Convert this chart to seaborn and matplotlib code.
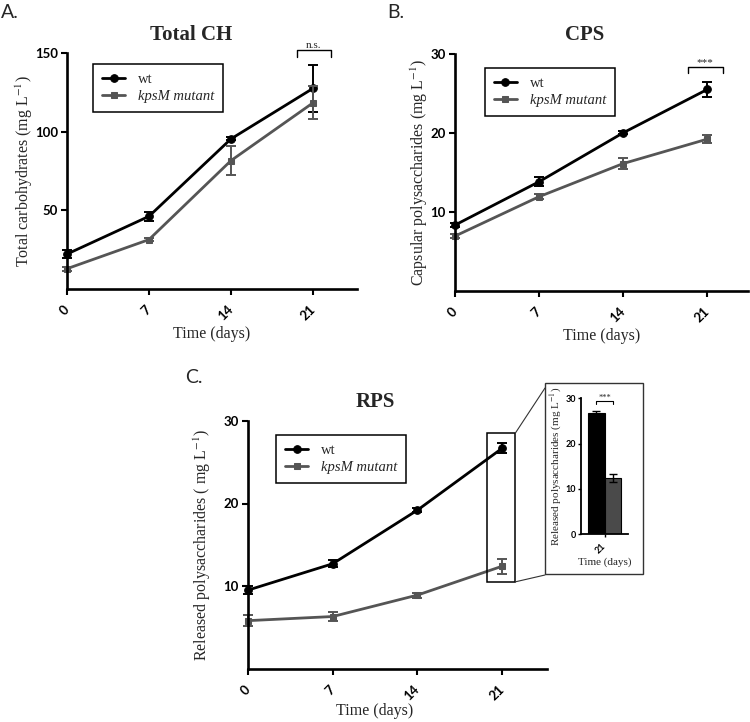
import matplotlib
matplotlib.use("Agg")
import matplotlib.pyplot as plt
import seaborn as sns
from matplotlib.patches import Rectangle, ConnectionPatch

# ---------------- data ----------------
days = [0, 7, 14, 21]
series_names = ["wt", "kpsM mutant"]

ch_wt = [22.2, 46.2, 95.4, 127.5]
ch_wt_err = [2.5, 3.0, 1.0, 15.0]
ch_mut = [12.9, 31.4, 81.6, 118.3]
ch_mut_err = [1.2, 1.2, 9.2, 10.5]

cps_wt = [8.3, 13.8, 20.0, 25.5]
cps_wt_err = [0.3, 0.6, 0.2, 0.9]
cps_mut = [6.9, 11.9, 16.1, 19.2]
cps_mut_err = [0.3, 0.3, 0.7, 0.5]

rps_wt = [9.5, 12.7, 19.2, 26.7]
rps_wt_err = [0.5, 0.4, 0.2, 0.6]
rps_mut = [5.8, 6.3, 8.9, 12.4]
rps_mut_err = [0.7, 0.6, 0.3, 0.9]

inset_day = ["21", "21"]
inset_vals = [26.7, 12.4]
inset_err = [0.5, 0.9]

# ---------------- style ----------------
sns.set_theme(style="ticks")
plt.rcParams["font.family"] = ["Liberation Serif", "DejaVu Serif"]
plt.rcParams["mathtext.fontset"] = "stix"

SERIF = "Liberation Serif"
TICKFONT = "Lato"
GRAY = "#555555"
W, H = 750, 722

fig = plt.figure(figsize=(W / 100, H / 100), dpi=100)


def ax_rect(l, r, t, b):
    return [l / W, 1 - b / H, (r - l) / W, (b - t) / H]


def style_axes(ax, spine_w=1.9, tick_len=4.5, tick_w=1.5, fs=9.5):
    sns.despine(ax=ax)
    for s in ("left", "bottom"):
        ax.spines[s].set_linewidth(spine_w)
        ax.spines[s].set_color("black")
    ax.tick_params(axis="both", direction="out", length=tick_len, width=tick_w,
                   color="black", labelsize=fs)
    for lab in ax.get_xticklabels() + ax.get_yticklabels():
        lab.set_fontfamily(TICKFONT)
        lab.set_fontweight("bold")
        lab.set_color("black")
    ax.grid(False)
    ax.set_facecolor("white")


def line_panel(ax, wt, wt_err, mut, mut_err, ylim, yticks, xmax, ylabel,
               ylabel_x, xlabel_pos, legend_anchor):
    sns.lineplot(x=days, y=wt, ax=ax, color="black", marker="o", markersize=5.5,
                 markeredgecolor="black", linewidth=2.0, label=series_names[0])
    sns.lineplot(x=days, y=mut, ax=ax, color=GRAY, marker="s", markersize=5,
                 markeredgecolor=GRAY, linewidth=2.0, label=series_names[1])
    ax.errorbar(days, wt, yerr=wt_err, fmt="none", ecolor="black",
                elinewidth=1.4, capsize=3.5, capthick=1.4, clip_on=False)
    ax.errorbar(days, mut, yerr=mut_err, fmt="none", ecolor=GRAY,
                elinewidth=1.4, capsize=3.5, capthick=1.4, clip_on=False)
    for ln in ax.lines:
        ln.set_clip_on(False)
    ax.set_xlim(0, xmax)
    ax.set_ylim(*ylim)
    ax.set_xticks(days)
    ax.set_yticks(yticks)
    style_axes(ax)
    for lab in ax.get_xticklabels():
        lab.set_rotation(45)
        lab.set_ha("right")
        lab.set_va("center")
        lab.set_rotation_mode("anchor")
    ax.tick_params(axis="x", pad=9)
    ax.tick_params(axis="y", pad=2)
    ax.set_ylabel(ylabel, fontsize=11.5, fontfamily=SERIF)
    ax.yaxis.set_label_coords(ylabel_x, 0.5)
    ax.set_xlabel("Time (days)", fontsize=11.5, fontfamily=SERIF)
    ax.xaxis.set_label_coords(*xlabel_pos)
    leg = ax.legend(loc="upper left", bbox_to_anchor=legend_anchor,
                    borderaxespad=0, frameon=True, fancybox=False,
                    edgecolor="black", framealpha=1, fontsize=10.5,
                    handlelength=1.6, handletextpad=0.9, labelspacing=0.25,
                    borderpad=0.6)
    leg.get_frame().set_linewidth(1.1)
    for t in leg.get_texts():
        t.set_fontfamily(SERIF)
        t.set_fontsize(10.5)
    leg.get_texts()[1].set_fontstyle("italic")


def sig_bracket(ax, x0, x1, y_low, y_high, text, fs=8, lw=1.0):
    ax.plot([x0, x0, x1, x1], [y_low, y_high, y_high, y_low], color="black",
            lw=lw, clip_on=False)
    ax.text((x0 + x1) / 2, y_high, text, ha="center", va="bottom",
            fontsize=fs, fontfamily=SERIF, clip_on=False)


# ---------------- Panel A ----------------
axA = fig.add_axes(ax_rect(67, 357, 53, 289))
line_panel(axA, ch_wt, ch_wt_err, ch_mut, ch_mut_err, (0, 150), [50, 100, 150],
           24.76, r"Total carbohydrates (mg L$^{-1}$)", -0.11, (0.5, -0.155),
           (0.09, 0.953))
sig_bracket(axA, 19.6, 22.5, 147.5, 152, "n.s.")

# ---------------- Panel B ----------------
axB = fig.add_axes(ax_rect(455, 748, 54, 290.5))
line_panel(axB, cps_wt, cps_wt_err, cps_mut, cps_mut_err, (0, 30), [10, 20, 30],
           24.4, r"Capsular polysaccharides (mg L$^{-1}$)", -0.085, (0.5, -0.16),
           (0.102, 0.94))
sig_bracket(axB, 19.4, 22.3, 27.6, 28.3, "***")

# ---------------- Panel C ----------------
axC = fig.add_axes(ax_rect(248, 547, 421, 668.5))
line_panel(axC, rps_wt, rps_wt_err, rps_mut, rps_mut_err, (0, 30), [10, 20, 30],
           24.7, r"Released polysaccharides ( mg L$^{-1}$)", -0.117, (0.425, -0.14),
           (0.094, 0.943))

# zoom rectangle around day-21 points
zx0, zx1, zy0, zy1 = 19.75, 22.07, 10.5, 28.5
axC.add_patch(Rectangle((zx0, zy0), zx1 - zx0, zy1 - zy0, fill=False,
                        edgecolor="black", lw=1.1, clip_on=False, zorder=5))

# inset frame
box_l, box_r, box_t, box_b = 545, 643, 383, 574
fig.add_artist(Rectangle((box_l / W, 1 - box_b / H), (box_r - box_l) / W,
                         (box_b - box_t) / H, transform=fig.transFigure,
                         fill=False, edgecolor="#333333", lw=1.0))
fig.add_artist(ConnectionPatch(xyA=(zx1, zy1), coordsA=axC.transData,
                               xyB=(box_l / W, 1 - 388 / H), coordsB=fig.transFigure,
                               color="#333333", lw=0.8))
fig.add_artist(ConnectionPatch(xyA=(zx1, zy0), coordsA=axC.transData,
                               xyB=(box_l / W, 1 - 575 / H), coordsB=fig.transFigure,
                               color="#333333", lw=0.8))

# ---------------- Inset bar chart ----------------
axI = fig.add_axes(ax_rect(581, 628, 398.3, 534.3))
sns.barplot(x=inset_day, y=inset_vals, hue=series_names, palette=["black", "#4a4a4a"],
            saturation=1, width=0.8, edgecolor="black", linewidth=0.8,
            legend=False, errorbar=None, ax=axI)
for cont, v, e in zip(axI.containers, inset_vals, inset_err):
    bar = cont[0]
    cx = bar.get_x() + bar.get_width() / 2
    axI.errorbar(cx, v, yerr=e, fmt="none", ecolor="black", elinewidth=1.0,
                 capsize=3, capthick=1.0)
axI.set_xlim(-0.57, 0.57)
axI.set_ylim(0, 30)
axI.set_yticks([0, 10, 20, 30])
style_axes(axI, spine_w=1.3, tick_len=2.5, tick_w=1.0, fs=6.5)
for lab in axI.get_xticklabels():
    lab.set_rotation(45)
    lab.set_ha("right")
    lab.set_va("center")
    lab.set_rotation_mode("anchor")
axI.tick_params(axis="x", pad=5)
axI.tick_params(axis="y", pad=1)
axI.set_ylabel(r"Released polysaccharides (mg L$^{-1}$)", fontsize=8, fontfamily=SERIF)
axI.yaxis.set_label_coords(-0.36, 0.5)
axI.set_xlabel("Time (days)", fontsize=8, fontfamily=SERIF)
axI.xaxis.set_label_coords(0.5, -0.17)
c0 = axI.containers[0][0]
c1 = axI.containers[1][0]
sig_bracket(axI, c0.get_x() + c0.get_width() / 2, c1.get_x() + c1.get_width() / 2,
            28.7, 29.3, "***", fs=6, lw=0.8)

# ---------------- titles & panel labels ----------------
fig.text(191 / W, 1 - 40 / H, "Total CH", ha="center", va="baseline",
         fontsize=15, fontweight="bold", fontfamily=SERIF)
fig.text(585 / W, 1 - 40 / H, "CPS", ha="center", va="baseline",
         fontsize=15, fontweight="bold", fontfamily=SERIF)
fig.text(375 / W, 1 - 407 / H, "RPS", ha="center", va="baseline",
         fontsize=15, fontweight="bold", fontfamily=SERIF)

fig.text(1 / W, 1 - 18 / H, "A.", ha="left", va="baseline", fontsize=14,
         fontfamily=TICKFONT)
fig.text(387 / W, 1 - 18 / H, "B.", ha="left", va="baseline", fontsize=14,
         fontfamily=TICKFONT)
fig.text(185 / W, 1 - 383 / H, "C.", ha="left", va="baseline", fontsize=14,
         fontfamily=TICKFONT)

fig.savefig("out.png", dpi=100, facecolor="white")
